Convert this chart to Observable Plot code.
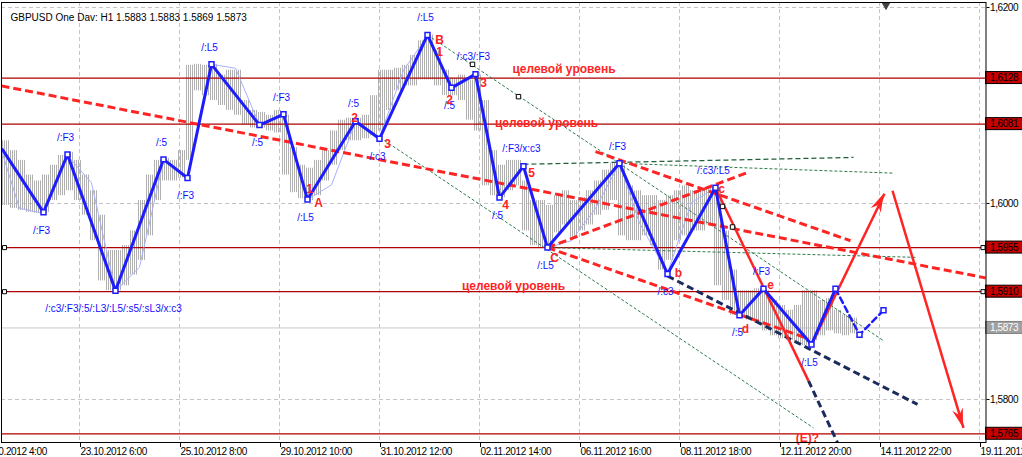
<!DOCTYPE html>
<html><head><meta charset="utf-8">
<script src="https://cdn.jsdelivr.net/npm/d3@7"></script>
<script src="https://cdn.jsdelivr.net/npm/@observablehq/plot@0.6"></script>
<style>
html,body{margin:0;padding:0;background:#fff;}
#chart{width:1022px;height:457px;overflow:hidden;}
#chart svg{overflow:hidden;}
g[aria-label="x-axis tick label"] text, g[aria-label="y-axis tick label"] text, g.boxlab text {letter-spacing:-0.4px;}
</style></head><body><div id="chart"></div>
<script>
// ---------- data (bar index: 0 = 23.10.2012 6:00, one bar = 1 hour) ----------
const title = "GBPUSD One Dav: H1 1.5883 1.5883 1.5869 1.5873";
const tickBars = [-50, 0, 50, 100, 150, 200, 250, 300, 350, 400, 450];
const timeLabels = ["19.10.2012 4:00","23.10.2012 6:00","25.10.2012 8:00","29.10.2012 10:00","31.10.2012 12:00","02.11.2012 14:00","06.11.2012 16:00","08.11.2012 18:00","12.11.2012 20:00","14.11.2012 22:00","19.11.2012 0:00"];
const priceTicks = [1.58, 1.60, 1.62];
const viewBars = [-39, 453.25];
const viewPrices = [1.57561, 1.62051];

// grey H1 bars, summarised in groups of 4 bars
const barGroupStart = -38.5;
const barGroupSize = 4;
const barHigh = [1.6064,1.6054,1.6044,1.6029,1.6023,1.6029,1.6039,1.6049,1.6052,1.6044,
1.6029,1.6013,1.5988,1.5952,1.5952,1.5957,1.5972,1.6003,1.6029,1.6044,
1.6046,1.6044,1.6054,1.6141,1.6142,1.6141,1.6142,1.6131,1.6136,1.6136,
1.6105,1.6095,1.6093,1.6090,1.6095,1.6090,1.6057,1.6039,1.6036,1.6044,
1.6054,1.6074,1.6085,1.6087,1.6087,1.6090,1.6110,1.6136,1.6136,1.6138,
1.6141,1.6151,1.6166,1.6172,1.6156,1.6136,1.6128,1.6131,1.6126,1.6131,
1.6105,1.6054,1.6039,1.6044,1.6044,1.6023,1.6003,1.6003,1.5998,1.6008,
1.6013,1.6003,1.6006,1.6013,1.6023,1.6034,1.6041,1.6039,1.6018,1.6013,
1.6008,1.6008,1.6003,1.6008,1.6013,1.6018,1.6013,1.6015,1.6016,1.6013,
1.5972,1.5932,1.5911,1.5911,1.5913,1.5911,1.5901,1.5896,1.5891,1.5896,
1.5911,1.5911,1.5901,1.5903,1.5891,1.5886,1.5883];
const barLow = [1.5998,1.5995,1.5993,1.5991,1.5990,1.5991,1.6003,1.6008,1.6013,1.6003,
1.5988,1.5962,1.5921,1.5911,1.5911,1.5916,1.5927,1.5942,1.5967,1.6003,
1.6023,1.6023,1.6026,1.6044,1.6115,1.6110,1.6105,1.6100,1.6095,1.6090,
1.6080,1.6077,1.6077,1.6074,1.6072,1.6029,1.6011,1.6005,1.6003,1.6008,
1.6023,1.6039,1.6054,1.6064,1.6064,1.6066,1.6069,1.6074,1.6095,1.6115,
1.6120,1.6120,1.6126,1.6126,1.6120,1.6110,1.6110,1.6105,1.6085,1.6074,
1.6018,1.6008,1.6006,1.6013,1.6018,1.5972,1.5957,1.5955,1.5957,1.5970,
1.5978,1.5965,1.5972,1.5978,1.5988,1.5993,1.6003,1.5967,1.5962,1.5962,
1.5967,1.5957,1.5932,1.5942,1.5962,1.5967,1.5972,1.5972,1.5978,1.5916,
1.5901,1.5886,1.5883,1.5881,1.5878,1.5870,1.5865,1.5862,1.5860,1.5857,
1.5855,1.5860,1.5865,1.5870,1.5867,1.5865,1.5867];

// main zigzag
const zigBars = [-38.5,-18,-6,18,42,54,66,90,102,114,138,150,174,186,198,210,222,234,270,294,318,330,342,366,378];
const zigPrices = [1.6055,1.5991,1.6050,1.5911,1.6045,1.6026,1.6142,1.6080,1.6091,1.6004,1.6084,1.6066,1.6172,1.6118,1.6132,1.6006,1.6038,1.5955,1.6041,1.5928,1.6016,1.5886,1.5913,1.5856,1.5913];
const zigLabels = ["","/:F3","/:F3","/:c3/:F3/:5/:L3/:L5/:s5/:sL3/x:c3","/:5","/:F3","/:L5","/:5","/:F3","/:L5","/:5","/:c3","/:L5","/:5","/:c3/:F3","/:5","/:F3/x:c3","/:L5","/:F3","/:c3","/:c3/:L5","/:5","/:F3","/:L5",""];
const projBars = [378, 390, 402];
const projPrices = [1.5913, 1.5866, 1.5891];

// thin secondary zigzag
const thinBars = [-38.5,-30,-18,-6,6,18,30,42,54,66,78,90,102,114,126,138,150,162,174,186,198,210,222,234,246,258,270,280,294,306,318,330,342,366,378];
const thinPrices = [1.6051,1.5995,1.5990,1.6049,1.6021,1.5911,1.5935,1.6044,1.6026,1.6142,1.6138,1.6080,1.6092,1.6004,1.6019,1.6083,1.6067,1.6136,1.6171,1.6118,1.6131,1.6006,1.6038,1.5955,1.5962,1.5995,1.6041,1.5980,1.5929,1.6001,1.6016,1.5886,1.5913,1.5856,1.5913];

// levels
const levels = [1.6128, 1.6081, 1.5955, 1.5910, 1.5765];
const levelSquares = [1.5955, 1.5910];
const currentPrice = 1.5873;

// trend lines [bar1, price1, bar2, price2]
const redDashedLines = [[-39,1.6120,453.25,1.5924],[258,1.6053,385.5,1.5962],[234,1.5955,334.5,1.6032],[234,1.5955,364.5,1.5862]];
const redSolidLines = [[318,1.6016,364.5,1.5819]];
const redArrows = [[366,1.5856,402.5,1.6010],[406.5,1.6013,442,1.5771]];
const navyDashedLines = [[294,1.5926,419,1.5795],[364.5,1.5819,379,1.5756]];
const greenLines = [[138,1.6084,367,1.5771],[174,1.6172,402,1.5860],[270,1.6041,406.5,1.6031],[234,1.5955,419,1.5945]];
const greenDarkLines = [[222,1.6040,387,1.6047]];
const anchorSquares = [[196.5,1.6142],[219.5,1.6109],[321.5,1.5997],[326.5,1.5976]];

// annotations
const targetText = "целевой уровень";
const targetBars = [242.25, 233.5, 217];
const targetPrices = [1.6137, 1.6082, 1.5916];
const waveText = ["1","A","2","3","B","1","2","3","4","5","C","b","c","d","e","(E)?"];
const waveBars = [115,119.5,137.5,154,180,180,185,202,213,226,237.5,299.5,321,333,345.5,364];
const wavePrices = [1.6015,1.6000,1.6087,1.6061,1.6167,1.6154,1.6105,1.6123,1.5998,1.6031,1.5944,1.5929,1.6015,1.5872,1.5917,1.5761];
const shiftMarkBar = 403.25;

// ---------- build ----------
const bars = barHigh.map((h, i) => ({x1: barGroupStart + i*barGroupSize, x2: barGroupStart + (i+1)*barGroupSize, hi: h, lo: barLow[i]}));
const zig = zigBars.map((b, i) => ({b, p: zigPrices[i], label: zigLabels[i], peak: i > 0 && zigPrices[i] > zigPrices[i-1]}));
const proj = projBars.map((b, i) => ({b, p: projPrices[i]}));
const thin = thinBars.map((b, i) => ({b, p: thinPrices[i]}));
const targets = targetBars.map((b, i) => ({b, p: targetPrices[i]}));
const waves = waveBars.map((b, i) => ({b, p: wavePrices[i], t: waveText[i]}));
const labelMap = new Map(tickBars.map((b, i) => [b, timeLabels[i]]));
const fmt = d => d.toFixed(4).replace(".", ",");
const seg = (arr, o) => Plot.link(arr, {x1: d => d[0], y1: d => d[1], x2: d => d[2], y2: d => d[3], clip: true, ...o});

const RED = "#ff2424", BLUE = "#1c1cff";

const chart = Plot.plot({
  width: 1022, height: 457,
  marginLeft: 1, marginRight: 36.5, marginTop: 2, marginBottom: 15,
  x: {domain: viewBars, axis: null},
  y: {domain: viewPrices, axis: null},
  style: {fontFamily: "'Liberation Sans', Arial, sans-serif", fontSize: "10px", background: "white", color: "black"},
  marks: [
    Plot.gridX(tickBars, {stroke: "#c4c4c4", strokeOpacity: 1, strokeDasharray: "4,3"}),
    Plot.gridY(priceTicks, {stroke: "#c4c4c4", strokeOpacity: 1, strokeDasharray: "4,3"}),
    Plot.ruleY([currentPrice], {stroke: "#c8c8c8", strokeWidth: 1}),
    Plot.rect(bars, {x1: "x1", x2: "x2", y1: "lo", y2: "hi", fill: "url(#barStripes)"}),
    Plot.ruleY(levels, {stroke: "#b00000", strokeWidth: 1.2}),
    Plot.dot(levelSquares, {y: d => d, frameAnchor: "left", dx: 3, symbol: "square", r: 2.3, fill: "white", stroke: "black", strokeWidth: 1}),
    Plot.dot(levelSquares, {y: d => d, frameAnchor: "right", dx: -3, symbol: "square", r: 2.3, fill: "white", stroke: "black", strokeWidth: 1}),
    seg(greenLines, {stroke: "#2f7a4c", strokeWidth: 1, strokeDasharray: "3,2"}),
    seg(greenDarkLines, {stroke: "#1f5e3a", strokeWidth: 1.2, strokeDasharray: "5,3"}),
    Plot.line(thin, {x: "b", y: "p", stroke: "#a9b0ff", strokeWidth: 1}),
    seg(redDashedLines, {stroke: RED, strokeWidth: 3, strokeDasharray: "8,4"}),
    seg(navyDashedLines, {stroke: "#1b2b5e", strokeWidth: 3, strokeDasharray: "7,4"}),
    seg(redSolidLines, {stroke: RED, strokeWidth: 2.5}),
    seg(redArrows, {stroke: RED, strokeWidth: 2.5}),
    Plot.line(zig, {x: "b", y: "p", stroke: BLUE, strokeWidth: 3}),
    Plot.line(proj, {x: "b", y: "p", stroke: BLUE, strokeWidth: 2.5, strokeDasharray: "6,4"}),
    Plot.dot(zig.slice(1).concat(proj.slice(1)), {x: "b", y: "p", symbol: "square", r: 2.8, fill: "white", stroke: BLUE, strokeWidth: 1.5}),
    Plot.dot(anchorSquares, {x: d => d[0], y: d => d[1], symbol: "square", r: 2.5, fill: "white", stroke: "black", strokeWidth: 1}),
    Plot.text(zig.filter(d => d.label && d.peak), {x: "b", y: "p", text: "label", dy: -17, dx: -2, fill: "#1010ff", fontSize: 10}),
    Plot.text(zig.filter(d => d.label && !d.peak), {x: "b", y: "p", text: "label", dy: 18, dx: -2, fill: "#1010ff", fontSize: 10}),
    Plot.text(waves, {x: "b", y: "p", text: "t", fill: RED, fontSize: 12, fontWeight: "bold"}),
    Plot.text(targets, {x: "b", y: "p", text: () => targetText, fill: RED, fontSize: 12, fontWeight: "bold"}),
    Plot.text([title], {frameAnchor: "top-left", dx: 9, dy: 11.5, textAnchor: "start", fontSize: 10, fill: "black"}),
    Plot.dot([shiftMarkBar], {x: d => d, frameAnchor: "top", dy: 3, symbol: "triangle2", rotate: 180, r: 4, fill: "#444"}),
    Plot.axisY(priceTicks, {anchor: "right", tickFormat: fmt, tickSize: 3, tickPadding: 1, fontSize: 10, label: null}),
    Plot.axisX(tickBars, {anchor: "bottom", tickFormat: d => labelMap.get(d), tickSize: 5, tickPadding: 0, textAnchor: "start", dx: 1, fontSize: 10, label: null}),
    Plot.rect(levels, {x1: () => viewBars[1], x2: () => viewBars[1], y1: d => d, y2: d => d, insetRight: -40, insetTop: -6, insetBottom: -6, fill: "#c80000", stroke: "black", strokeWidth: 1}),
    Plot.text(levels, {y: d => d, frameAnchor: "right", dx: 4, textAnchor: "start", text: fmt, fill: "black", fontSize: 10, className: "boxlab"}),
    Plot.rect([currentPrice], {x1: () => viewBars[1], x2: () => viewBars[1], y1: d => d, y2: d => d, insetRight: -40, insetTop: -6, insetBottom: -6, fill: "#a0a0a0", stroke: "#808080", strokeWidth: 1}),
    Plot.text([currentPrice], {y: d => d, frameAnchor: "right", dx: 4, textAnchor: "start", text: fmt, fill: "white", fontSize: 10, className: "boxlab"}),
    Plot.frame({stroke: "black", strokeWidth: 1})
  ]
});

// stripe pattern for the grey bars (one 1px bar every 2px, as H1 bars are drawn)
const sel = d3.select(chart);
const defs = sel.insert("defs", ":first-child");
const pat = defs.append("pattern").attr("id", "barStripes").attr("patternUnits", "userSpaceOnUse")
  .attr("x", 0).attr("y", 0).attr("width", 2).attr("height", 4);
pat.append("rect").attr("x", 0).attr("y", 0).attr("width", 1).attr("height", 4)
  .attr("fill", "#b0b0b0").attr("shape-rendering", "crispEdges");

// filled arrow heads at the ends of the red arrows, placed with the plot's scales
const sx = chart.scale("x"), sy = chart.scale("y");
const ga = sel.append("g").attr("fill", RED);
for (const [b1, p1, b2, p2] of redArrows) {
  const x1 = sx.apply(b1), y1 = sy.apply(p1), x2 = sx.apply(b2), y2 = sy.apply(p2);
  const a = Math.atan2(y2 - y1, x2 - x1), ux = Math.cos(a), uy = Math.sin(a), px = -uy, py = ux;
  const L = 19, W = 5.5, N = 13;
  const pts = [[x2, y2], [x2 - L*ux + W*px, y2 - L*uy + W*py], [x2 - N*ux, y2 - N*uy], [x2 - L*ux - W*px, y2 - L*uy - W*py]];
  ga.append("path").attr("d", "M" + pts.map(p => p.join(",")).join("L") + "Z");
}

document.getElementById("chart").appendChild(chart);
</script>
</body></html>
